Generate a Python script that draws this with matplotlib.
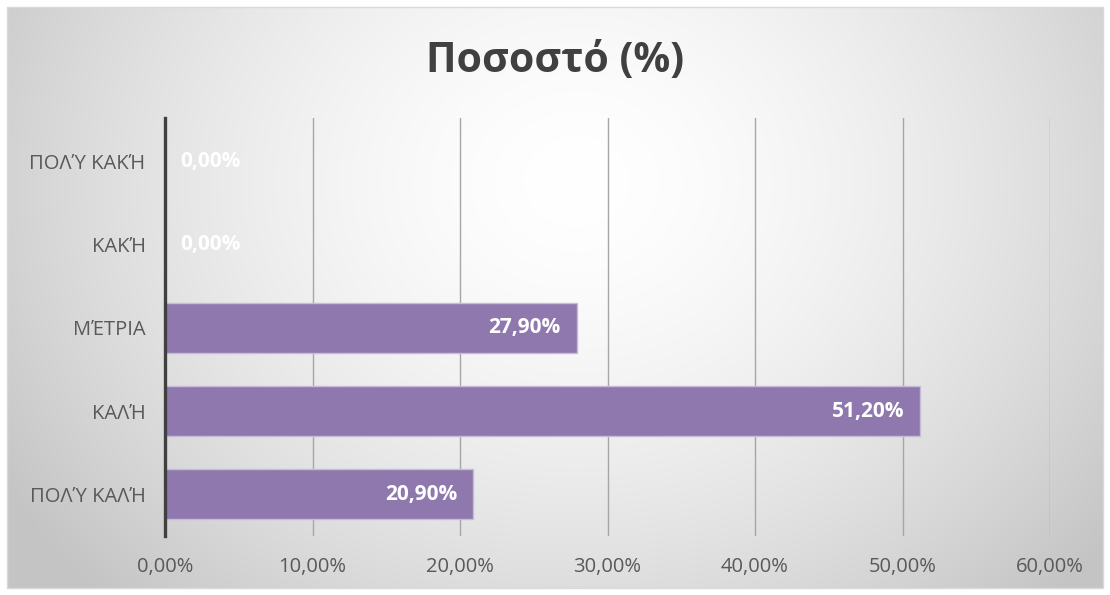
import numpy as np
import matplotlib.pyplot as plt
from matplotlib.patches import Rectangle

plt.rcParams['font.family'] = ['Open Sans', 'DejaVu Sans']

# data (bottom to top)
categories = ['ΠΟΛΎ ΚΑΛΉ', 'ΚΑΛΉ', 'ΜΈΤΡΙΑ', 'ΚΑΚΉ', 'ΠΟΛΎ ΚΑΚΉ']
values = [20.9, 51.2, 27.9, 0.0, 0.0]
x_ticks = [0, 10, 20, 30, 40, 50, 60]

W, H = 1110, 595
fig = plt.figure(figsize=(W / 100, H / 100), dpi=100)
fig.patch.set_facecolor('white')

# radial gradient background for the chart area
bg = fig.add_axes([7 / W, 7 / H, (W - 14) / W, (H - 14) / H])
bg.set_axis_off()
nx, ny = 400, 220
xx, yy = np.meshgrid(np.linspace(0, 1, nx), np.linspace(0, 1, ny))
r = np.sqrt(((xx - 0.52) / 0.62) ** 2 + ((yy - 0.3) / 1.0) ** 2)
r = np.clip(r, 0, 1)
grey = 1.0 - 0.23 * r ** 1.6
bg.imshow(np.dstack([grey, grey, grey]), extent=[0, 1, 1, 0], aspect='auto',
          interpolation='bilinear')
bg.set_xlim(0, 1)
bg.set_ylim(1, 0)
bg.add_patch(Rectangle((0, 0), 1, 1, fill=False, edgecolor='#d9d9d9', lw=1,
                       transform=bg.transAxes, clip_on=False))

ax = fig.add_axes([165 / W, (H - 536) / H, (1050 - 165) / W, (536 - 118) / H])
ax.patch.set_alpha(0)

y = np.arange(len(categories))
ax.barh(y, values, height=0.6, color='#8e78ae', edgecolor='#c8bbd8', lw=1,
        zorder=3)

for yi, v in zip(y, values):
    txt = f'{v:.2f}'.replace('.', ',') + '%'
    if v > 0:
        ax.annotate(txt, (v, yi), xytext=(-11.5, 0), textcoords='offset points',
                    ha='right', va='center', color='white', fontsize=15,
                    fontweight='bold', zorder=4)
    else:
        ax.annotate(txt, (v, yi), xytext=(11, 0), textcoords='offset points',
                    ha='left', va='center', color='white', fontsize=15,
                    fontweight='bold', zorder=4)

ax.set_xlim(0, 60)
ax.set_ylim(-0.5, 4.52)
ax.set_xticks(x_ticks)
ax.set_xticklabels([f'{t:.2f}'.replace('.', ',') + '%' for t in x_ticks])
ax.set_yticks(y)
ax.set_yticklabels(categories)
ax.tick_params(axis='both', length=0, labelsize=14.5, labelcolor='#595959')
ax.tick_params(axis='x', pad=15)
ax.tick_params(axis='y', pad=14)
ax.grid(axis='x', color='#a6a6a6', lw=1, zorder=1)
for s in ['top', 'right', 'bottom']:
    ax.spines[s].set_visible(False)
ax.spines['left'].set_color('#404040')
ax.spines['left'].set_linewidth(2.4)
ax.spines['left'].set_zorder(5)

fig.text(0.5, (H - 61) / H, 'Ποσοστό (%)', ha='center', va='center',
         fontsize=29.5, fontweight='bold', color='#404040')

plt.savefig('out.png', dpi=100)
